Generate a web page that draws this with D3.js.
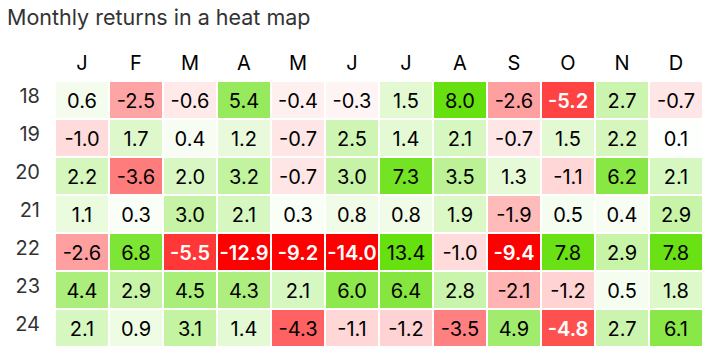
<!DOCTYPE html>
<html><head><meta charset="utf-8">
<script src="https://cdn.jsdelivr.net/npm/d3@7"></script>
<style>body{margin:0;background:#fff;} svg{display:block;font-family:Inter,"Liberation Sans",Arial,sans-serif;}</style>
</head><body>
<script>
const months = ["J","F","M","A","M","J","J","A","S","O","N","D"];
const years = ["18","19","20","21","22","23","24"];
const r18 = [0.6,-2.5,-0.6,5.4,-0.4,-0.3,1.5,8.0,-2.6,-5.2,2.7,-0.7];
const r19 = [-1.0,1.7,0.4,1.2,-0.7,2.5,1.4,2.1,-0.7,1.5,2.2,0.1];
const r20 = [2.2,-3.6,2.0,3.2,-0.7,3.0,7.3,3.5,1.3,-1.1,6.2,2.1];
const r21 = [1.1,0.3,3.0,2.1,0.3,0.8,0.8,1.9,-1.9,0.5,0.4,2.9];
const r22 = [-2.6,6.8,-5.5,-12.9,-9.2,-14.0,13.4,-1.0,-9.4,7.8,2.9,7.8];
const r23 = [4.4,2.9,4.5,4.3,2.1,6.0,6.4,2.8,-2.1,-1.2,0.5,1.8];
const r24 = [2.1,0.9,3.1,1.4,-4.3,-1.1,-1.2,-3.5,4.9,-4.8,2.7,6.1];
const rows = [r18,r19,r20,r21,r22,r23,r24];

const W = 708, H = 352;
const svg = d3.select("body").append("svg").attr("width", W).attr("height", H);

svg.append("text").attr("x", 7).attr("y", 25).attr("font-size", 21.5).attr("fill", "#333")
  .text("Monthly returns in a heat map");

const x = d3.scaleBand().domain(d3.range(12)).range([55, 703]);
const y = d3.scaleBand().domain(years).range([81, 347]);
const color = d3.scaleLinear().domain([-7, 0, 8]).range(["#ff0000", "#ffffff", "#66e00f"]).clamp(true);

const cells = [];
rows.forEach((vals, i) => vals.forEach((v, j) => cells.push({year: years[i], m: j, v})));

svg.append("g").selectAll("text").data(months).join("text")
  .attr("x", (d, i) => x(i) + x.bandwidth() / 2).attr("y", 70)
  .attr("text-anchor", "middle").attr("font-size", 20).attr("fill", "#000").text(d => d);

svg.append("g").selectAll("text").data(years).join("text")
  .attr("x", 40).attr("y", d => y(d) + y.bandwidth() / 2 + 3)
  .attr("text-anchor", "end").attr("font-size", 20).attr("fill", "#333").text(d => d);

const g = svg.append("g");
g.selectAll("rect").data(cells).join("rect")
  .attr("x", d => x(d.m) + 1).attr("y", d => y(d.year) + 1)
  .attr("width", x.bandwidth() - 2).attr("height", y.bandwidth() - 2)
  .attr("fill", d => color(d.v));

g.selectAll("text").data(cells).join("text")
  .attr("x", d => x(d.m) + x.bandwidth() / 2).attr("y", d => y(d.year) + y.bandwidth() / 2 + 8)
  .attr("text-anchor", "middle").attr("font-size", 20)
  .attr("font-weight", d => d.v <= -4.5 ? 600 : 400)
  .attr("fill", d => d.v <= -4.5 ? "#fff" : "#000")
  .text(d => d.v.toFixed(1));
</script>
</body></html>
